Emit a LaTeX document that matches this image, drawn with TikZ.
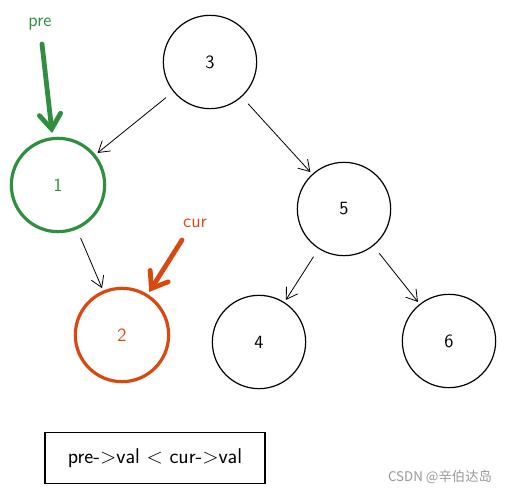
\documentclass[tikz,border=0pt]{standalone}
\usepackage{fontspec}
\newfontfamily\cjkfont{Noto Sans CJK SC}
\usepackage{tikz}
\usetikzlibrary{arrows.meta, positioning}

\definecolor{preGreen}{HTML}{2F8F3E}
\definecolor{curOrange}{HTML}{D9480F}
\definecolor{markGray}{HTML}{999999}

\begin{document}
\begin{tikzpicture}[%
        x=0.75pt, y=-0.75pt,
        every node/.style={font=\sffamily\fontsize{14}{16}\selectfont},
        treenode/.style={circle, draw, line width=0.9pt, minimum size=70pt, inner sep=0pt},
        treeedge/.style={line width=0.6pt, -{Straight Barb[length=8pt, width=10pt]},
            shorten <=7pt, shorten >=2pt},
        pointer/.style={line width=3.6pt, line cap=round,
            -{Straight Barb[length=11pt, width=16pt, line cap=round]}}
    ]
    \useasboundingbox (0,0) rectangle (507,498);

    % --- Tree ---
    \node[treenode] (n3) at (210,62) {3};
    \node[treenode, draw=preGreen, text=preGreen, line width=2.4pt] (n1) at (58,185) {1};
    \node[treenode] (n5) at (344,209) {5};
    \node[treenode, draw=curOrange, text=curOrange, line width=2.4pt] (n2) at (122,335) {2};
    \node[treenode] (n4) at (259,342) {4};
    \node[treenode] (n6) at (449,341) {6};

    \draw[treeedge] (n3) -- (n1);
    \draw[treeedge] (n3) -- (n5);
    \draw[treeedge] (n1) -- (n2);
    \draw[treeedge] (n5) -- (n4);
    \draw[treeedge] (n5) -- (n6);

    % --- Pointers ---
    \node[text=preGreen, font=\sffamily\fontsize{14}{16}\selectfont] (pre) at (40,24) {pre};
    \coordinate (preTail) at (42,44);
    \draw[pointer, draw=preGreen, shorten >=3pt] (preTail) -- (n1);

    \node[text=curOrange, font=\sffamily\fontsize{14}{16}\selectfont] (cur) at (195,223) {cur};
    \coordinate (curTail) at (182,240);
    \draw[pointer, draw=curOrange, shorten >=2pt] (curTail) -- (n2);

    % --- Condition ---
    \node[draw, line width=0.8pt, minimum width=165pt, minimum height=38pt,
        font=\sffamily\fontsize{16}{18}\selectfont] (cond) at (155,458) {pre->val < cur->val};

    \node[text=markGray, font=\cjkfont\fontsize{10}{12}\selectfont] (mark) at (440,477) {CSDN @辛伯达岛};
\end{tikzpicture}
\end{document}
